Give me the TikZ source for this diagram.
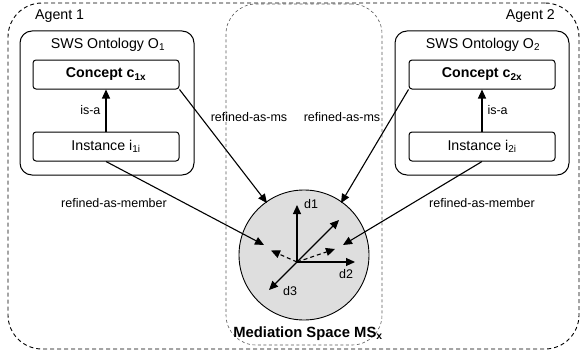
\documentclass[tikz,border=0pt]{standalone}
\usepackage{fontspec}
\setmainfont{Liberation Sans}
\usetikzlibrary{arrows.meta}
\begin{document}
\begin{tikzpicture}[x=1pt,y=-1pt,
  txt/.style={font=\fontsize{12.5}{14}\selectfont, inner sep=0pt},
  bigtxt/.style={font=\fontsize{14.2}{16}\selectfont, inner sep=0pt},
  region/.style={draw, dashed, dash pattern=on 4pt off 3pt, rounded corners=34pt, line width=0.9pt},
  msregion/.style={draw=black!65, dash pattern=on 3pt off 2.5pt, rounded corners=30pt, line width=0.6pt},
  ontbox/.style={draw, rounded corners=12pt, line width=1pt, minimum width=174pt, minimum height=144pt, inner sep=0pt},
  itembox/.style={draw, rounded corners=3pt, line width=1pt, minimum width=146pt, minimum height=29pt, inner sep=0pt, font=\fontsize{14.2}{16}\selectfont},
  link/.style={line width=1.1pt, -{Triangle[length=9pt,width=8pt]}},
  dlink/.style={line width=1.1pt, dash pattern=on 4pt off 3pt, -{Triangle[length=9pt,width=8pt]}},
  axis/.style={line width=1.1pt, -{Triangle[length=9pt,width=8pt]}}
]
\useasboundingbox (0,0) rectangle (580,353);

% agent and mediation regions
\node[region, minimum width=571pt, minimum height=346pt] (agents) at (293.5,176) {};
\node[msregion, minimum width=156pt, minimum height=341pt] (medregion) at (304,174.5) {};
\node[bigtxt, anchor=west] (agent1) at (35,16) {Agent 1};
\node[bigtxt, anchor=east] (agent2) at (555,16) {Agent 2};

% ontology of agent 1
\node[ontbox] (ont1) at (107,103) {};
\node[bigtxt] (ont1title) at (108,45) {SWS Ontology O\textsubscript{1}};
\node[itembox] (con1) at (106,74.5) {\textbf{Concept c\textsubscript{1x}}};
\node[itembox] (ins1) at (106,146.5) {Instance i\textsubscript{1i}};
\draw[link] (ins1) -- node[txt, left=5pt] (isa1) {is-a} (con1);

% ontology of agent 2
\node[ontbox] (ont2) at (482,103) {};
\node[bigtxt] (ont2title) at (483,45) {SWS Ontology O\textsubscript{2}};
\node[itembox] (con2) at (482,74.5) {\textbf{Concept c\textsubscript{2x}}};
\node[itembox] (ins2) at (482,146.5) {Instance i\textsubscript{2i}};
\draw[link] (ins2) -- node[txt, right=5pt] (isa2) {is-a} (con2);

% mediation space
\node[circle, draw, fill=black!13, line width=0.9pt, minimum size=130pt, inner sep=0pt] (ms) at (304,255) {};
\node[inner sep=0pt, font=\fontsize{14.8}{17}\selectfont\bfseries] (mslabel) at (308,334) {Mediation Space MS\textsubscript{x}};

% dimensions of the mediation space
\coordinate (o) at (297,262);
\coordinate (d1end) at (297,205);
\coordinate (d2end) at (355,262);
\coordinate (d3end) at (269,290);
\coordinate (d4end) at (339,220);
\draw[axis] (o) -- (d1end);
\draw[axis] (o) -- (d2end);
\draw[axis] (o) -- (d3end);
\draw[axis] (o) -- (d4end);
\node[txt] (d1) at (311,204) {d1};
\node[txt] (d2) at (346,274) {d2};
\node[txt] (d3) at (290,291) {d3};

% projections of the instances
\coordinate (p1) at (271,250.5);
\coordinate (p2) at (335,249);
\draw[dlink] (o) -- (p1);
\draw[dlink] (o) -- (p2);

% refinement links
\coordinate (ms1) at (267,203);
\coordinate (ms2) at (341,203);
\coordinate (m1) at (264,245);
\coordinate (m2) at (343,245);
\draw[link] (con1.south east) -- (ms1);
\draw[link] (con2.south west) -- (ms2);
\draw[link] (ins1.south) -- (m1);
\draw[link] (ins2.south) -- (m2);

\node[txt] (rms1) at (249,117) {refined-as-ms};
\node[txt] (rms2) at (342,117) {refined-as-ms};
\node[txt] (rmem1) at (114,203) {refined-as-member};
\node[txt] (rmem2) at (482,203) {refined-as-member};
\end{tikzpicture}
\end{document}
